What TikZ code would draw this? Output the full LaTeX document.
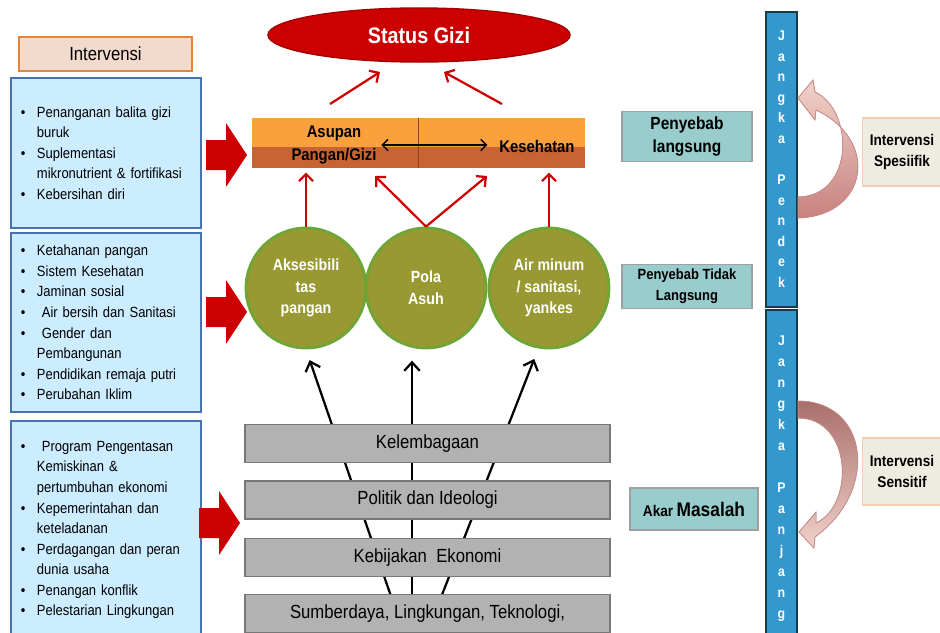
\documentclass[tikz,border=0pt]{standalone}
\usepackage{fontspec}
\setmainfont{Liberation Sans}[FakeStretch=0.88]
\usetikzlibrary{arrows.meta,shapes.geometric,backgrounds}

\definecolor{merah}{RGB}{204,0,0}
\definecolor{merahtua}{RGB}{165,0,0}
\definecolor{oranye}{RGB}{250,160,60}
\definecolor{oranyetua}{RGB}{200,100,50}
\definecolor{zaitun}{RGB}{153,153,51}
\definecolor{hijau}{RGB}{110,165,55}
\definecolor{birumuda}{RGB}{204,236,255}
\definecolor{birugaris}{RGB}{70,115,175}
\definecolor{tosca}{RGB}{153,204,204}
\definecolor{biru}{RGB}{51,153,204}
\definecolor{birutua}{RGB}{25,60,65}
\definecolor{krem}{RGB}{238,236,225}
\definecolor{kremgaris}{RGB}{245,205,175}
\definecolor{peach}{RGB}{242,218,205}
\definecolor{jingga}{RGB}{228,131,58}
\definecolor{pinkmuda}{RGB}{240,210,200}
\definecolor{pinktua}{RGB}{200,130,128}
\definecolor{pinkgaris}{RGB}{200,140,138}
\definecolor{abu}{RGB}{178,178,178}
\definecolor{abutua}{RGB}{120,120,120}

\newcommand{\bul}{\makebox[4mm][l]{\textbullet}}
\newcommand{\ind}{\hspace*{4mm}}

\tikzset{
	listbox/.style={draw=birugaris, line width=1.5pt, fill=birumuda, minimum width=47.5mm, inner xsep=2.5mm, text width=42.5mm, align=left, font=\fontsize{10.5}{14.6}\selectfont},
	circ/.style={circle, draw=hijau, line width=2pt, fill=zaitun, minimum size=30mm, inner sep=0pt, align=center, text=white, font=\fontsize{11.5}{15.5}\selectfont\bfseries},
	abubar/.style={draw=abutua, line width=0.8pt, fill=abu, minimum width=91.25mm, minimum height=9.5mm, font=\fontsize{13.5}{16}\selectfont},
	ket/.style={draw=abutua!70, line width=0.8pt, fill=tosca, align=center, font=\bfseries},
	vbar/.style={draw=birutua, line width=1.5pt, fill=biru, minimum width=7.75mm, inner sep=0pt},
	huruf/.style={text=white, font=\fontsize{10}{12}\selectfont\bfseries, inner sep=0pt, text height=7pt, text depth=2pt},
	kotak/.style={draw=kremgaris, line width=1pt, fill=krem, minimum width=19.75mm, align=center, font=\fontsize{11}{15}\selectfont\bfseries},
	panahmerah/.style={draw=merah, line width=1.6pt, -{Straight Barb[length=5pt,width=10pt]}},
	panahhitam/.style={draw=black, line width=1.6pt, -{Straight Barb[length=6pt,width=11pt]}}
}

\begin{document}
\begin{tikzpicture}[x=0.025cm, y=-0.025cm]
	\useasboundingbox (0,0) rectangle (940,632);
	\clip (0,0) rectangle (940,632);

	% kolom intervensi
	\node[draw=jingga, line width=1.2pt, fill=peach, minimum width=43.25mm, minimum height=8.5mm, font=\fontsize{13.5}{16}\selectfont] (hdr) at (105.5,54) {Intervensi};
	\node[listbox, minimum height=37.5mm] (ls1) at (106,153) {\bul Penanganan balita gizi\\
		\ind buruk\\
		\bul Suplementasi\\
		\ind mikronutrient \& fortifikasi\\
		\bul Kebersihan diri};
	\node[listbox, minimum height=44.75mm] (ls2) at (106,322.5) {\bul Ketahanan pangan\\
		\bul Sistem Kesehatan\\
		\bul Jaminan sosial\\
		\bul \ Air bersih dan Sanitasi\\
		\bul \ Gender dan\\
		\ind Pembangunan\\
		\bul Pendidikan remaja putri\\
		\bul Perubahan Iklim};
	\node[listbox, minimum height=54.5mm] (ls3) at (106,530) {\bul \ Program Pengentasan\\
		\ind Kemiskinan \&\\
		\ind pertumbuhan ekonomi\\
		\bul Kepemerintahan dan\\
		\ind keteladanan\\
		\bul Perdagangan dan peran\\
		\ind dunia usaha\\
		\bul Penangan konflik\\
		\bul Pelestarian Lingkungan};

	% panah blok merah
	\foreach \xx/\yy in {206/155, 206/312, 199/523}
		\fill[merah] (\xx,{\yy-15}) -- ++(20,0) -- ++(0,-17) -- ({\xx+41},\yy) -- ({\xx+20},{\yy+32}) -- ++(0,-17) -- (\xx,{\yy+15}) -- cycle;

	% status gizi
	\node[ellipse, fill=merah, draw=merahtua, line width=1pt, minimum width=75.5mm, minimum height=13.5mm, text=white, font=\fontsize{16}{18}\selectfont\bfseries] (sg) at (419,35) {Status Gizi};

	% penyebab langsung
	\node[fill=oranye, minimum width=83.25mm, minimum height=12.5mm, path picture={\fill[oranyetua] ([yshift=-3pt]path picture bounding box.west) rectangle (path picture bounding box.south east);}] (asp) at (418.5,143) {};
	\draw[oranyetua!70!black, line width=0.4pt] (asp.north) -- (asp.south);
	\node[align=center, font=\fontsize{12}{17}\selectfont\bfseries] (asup) at (334,145) {Asupan\\Pangan/Gizi};
	\node[font=\fontsize{12}{14}\selectfont\bfseries] (kes) at (537,146) {Kesehatan};
	\draw[line width=1pt, shorten >=5pt, {Straight Barb[length=4pt,width=8pt]}-{Straight Barb[length=4pt,width=8pt]}] (asup.east) -- (asup.east -| kes.west);

	\coordinate (ka) at (330,104);
	\coordinate (kat) at (380,72);
	\coordinate (kn) at (502,104);
	\coordinate (knt) at (444,72);
	\draw[panahmerah] (ka) -- (kat);
	\draw[panahmerah] (kn) -- (knt);

	% penyebab tidak langsung
	\node[circ] (c1) at (306,288) {Aksesibili\\tas\\pangan};
	\node[circ] (c2) at (426,288) {Pola\\Asuh};
	\node[circ] (c3) at (549,288) {Air minum\\/ sanitasi,\\yankes};

	\coordinate (v1) at (375,176);
	\coordinate (v2) at (487,176);
	\draw[panahmerah, shorten >=3pt] (c1) -- (c1 |- asp.south);
	\draw[panahmerah, shorten >=3pt] (c3) -- (c3 |- asp.south);
	\draw[panahmerah] (c2.north) -- (v1);
	\draw[panahmerah] (c2.north) -- (v2);

	% akar masalah
	\node[abubar] (kl) at (427.5,443.5) {Kelembagaan};
	\node[abubar] (pi) at (427.5,500) {Politik dan Ideologi};
	\node[abubar] (ke) at (427.5,557.5) {Kebijakan\ \ Ekonomi};
	\node[abubar, anchor=north] (sd) at (427.5,594) {Sumberdaya, Lingkungan, Teknologi,};

	\begin{pgfonlayer}{background}
		\coordinate (b1) at (394,605);
		\coordinate (b2) at (412,605);
		\coordinate (b3) at (438,605);
		\draw[panahhitam, shorten >=8pt] (b1) -- (c1.south);
		\draw[panahhitam, shorten >=8pt] (b2) -- (b2 |- c2.south);
		\draw[panahhitam, shorten >=8pt] (b3) -- (c3.-100);
	\end{pgfonlayer}

	% keterangan kanan
	\node[ket, minimum width=32.5mm, minimum height=12.5mm, font=\fontsize{12.5}{16.3}\selectfont\bfseries] (pl) at (687,136.5) {Penyebab\\langsung};
	\node[ket, minimum width=32.5mm, minimum height=10.5mm, font=\fontsize{10.5}{15}\selectfont\bfseries] (ptl) at (687,286.5) {Penyebab Tidak\\Langsung};
	\node[ket, minimum width=32mm, minimum height=10.5mm] (am) at (694,509) {{\fontsize{11}{13}\selectfont Akar} {\fontsize{14}{16}\selectfont Masalah}};

	% jangka pendek / panjang
	\node[vbar, minimum height=73.75mm] (jpd) at (781.5,159.5) {};
	\node[vbar, minimum height=82.5mm] (jpj) at (781.5,475) {};
	\foreach \h [count=\i] in {J,a,n,g,k,a}
		\node[huruf] (pa\i) at (781.5,{37+20.6*(\i-1)}) {\h};
	\foreach \h [count=\i] in {P,e,n,d,e,k}
		\node[huruf] (pb\i) at (781.5,{181+20.6*(\i-1)}) {\h};
	\foreach \h [count=\i] in {J,a,n,g,k,a}
		\node[huruf] (pc\i) at (781.5,{342+21*(\i-1)}) {\h};
	\foreach \h [count=\i] in {P,a,n,j,a,n,g}
		\node[huruf] (pd\i) at (781.5,{489+21*(\i-1)}) {\h};

	% panah lengkung
	\filldraw[draw=pinkgaris, line width=0.6pt, top color=pinkmuda, bottom color=pinktua] (798,218) .. controls (868,216) and (880,140) .. (816,110) -- (815,120) -- (798,98) -- (813,80) -- (815,92) .. controls (854,110) and (855,196) .. (798,197) -- cycle;
	\filldraw[draw=pinkgaris, line width=0.6pt, top color=pinktua!85!black, bottom color=pinkmuda] (798,401) .. controls (868,401) and (880,490) .. (815,537) -- (814,548) -- (799,532) -- (816,512) -- (816,523) .. controls (855,505) and (852,418) .. (798,418) -- cycle;

	\node[kotak, minimum height=17mm] (isp) at (902,152) {Intervensi\\Spesiifik};
	\node[kotak, minimum height=16.75mm] (isn) at (902,471.5) {Intervensi\\Sensitif};
\end{tikzpicture}
\end{document}
